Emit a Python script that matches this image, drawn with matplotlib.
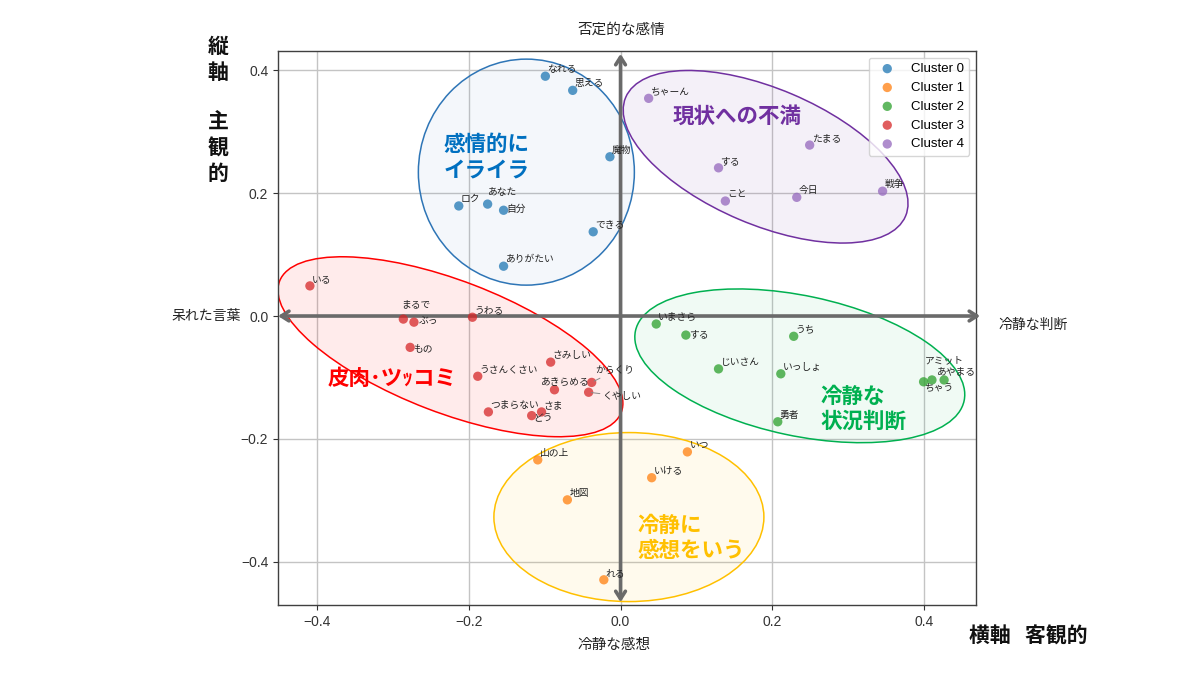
import matplotlib
matplotlib.use("Agg")
import matplotlib.pyplot as plt
from matplotlib.patches import Ellipse
from matplotlib.transforms import Affine2D

plt.rcParams['font.family'] = ['Noto Sans CJK JP', 'DejaVu Sans']

# ---------------- data ----------------
cluster_names = ["Cluster 0", "Cluster 1", "Cluster 2", "Cluster 3", "Cluster 4"]
cluster_colors = ["#1f77b4", "#ff7f0e", "#2ca02c", "#d62728", "#9467bd"]

c0_words = ["なれる", "思える", "魔物", "ロク", "あなた", "自分", "できる", "ありがたい"]
c0_x = [-0.099, -0.063, -0.014, -0.213, -0.175, -0.154, -0.036, -0.154]
c0_y = [0.390, 0.367, 0.259, 0.179, 0.182, 0.172, 0.137, 0.081]

c1_words = ["山の上", "いつ", "いける", "地図", "れる"]
c1_x = [-0.109, 0.088, 0.041, -0.070, -0.022]
c1_y = [-0.234, -0.221, -0.263, -0.299, -0.429]

c2_words = ["いまさら", "する", "うち", "じいさん", "いっしょ", "ちゃう", "アミット", "あやまる", "勇者"]
c2_x = [0.047, 0.086, 0.228, 0.129, 0.211, 0.399, 0.410, 0.426, 0.207]
c2_y = [-0.013, -0.031, -0.033, -0.086, -0.094, -0.107, -0.104, -0.104, -0.172]

c3_words = ["いる", "まるで", "ぶっ", "うわる", "もの", "さみしい", "うさんくさい", "からくり",
            "あきらめる", "くやしい", "つまらない", "さま", "どう"]
c3_x = [-0.409, -0.286, -0.272, -0.195, -0.277, -0.092, -0.188, -0.038,
        -0.087, -0.042, -0.174, -0.104, -0.117]
c3_y = [0.049, -0.005, -0.010, -0.002, -0.051, -0.075, -0.098, -0.108,
        -0.120, -0.124, -0.156, -0.156, -0.162]

c4_words = ["ちゃーん", "たまる", "する", "こと", "今日", "戦争"]
c4_x = [0.037, 0.249, 0.129, 0.138, 0.232, 0.345]
c4_y = [0.354, 0.278, 0.241, 0.187, 0.193, 0.203]

cluster_words = [c0_words, c1_words, c2_words, c3_words, c4_words]
cluster_x = [c0_x, c1_x, c2_x, c3_x, c4_x]
cluster_y = [c0_y, c1_y, c2_y, c3_y, c4_y]

group_labels = ["感情的に\nイライラ", "冷静に\n感想をいう", "冷静な\n状況判断", "皮肉･ツｯコミ", "現状への不満"]
group_colors = ["#0070c0", "#ffc000", "#00b050", "#ff0000", "#7030a0"]

# ---------------- layout / style ----------------
XLIM = (-0.451, 0.468)
YLIM = (-0.470, 0.431)

# label offsets in pixels (dx, dy up) for text bottom-left corner
default_off = (2, 2)
label_off = {
    (0, "あなた"): (0, 7),
    (0, "自分"): (3, -4),
    (3, "ぶっ"): (5, -4),
    (3, "もの"): (3, -6),
    (2, "する"): (3, -4),
    (3, "まるで"): (-2, 10),
    (3, "あきらめる"): (-13, 3),
    (3, "どう"): (2, -7),
    (3, "からくり"): (4, 7),
    (3, "くやしい"): (14, -9),
    (2, "アミット"): (-7, 15),
    (2, "ちゃう"): (1, -10),
    (2, "あやまる"): (-7, 4),
}
connectors = {(3, "からくり"), (3, "くやしい")}

# ellipses: center in data, width/height in pixels, angle in degrees
ellipses = [
    ((-0.124, 0.234), 216, 226, 0, "#2e75b6"),
    ((0.011, -0.327), 270, 169, 0, "#ffc000"),
    ((0.236, -0.081), 336, 140, -12, "#00b050"),
    ((-0.224, -0.050), 366, 132, -21, "#ff0000"),
    ((0.191, 0.259), 304, 136, -23, "#7030a0"),
]
ellipse_fill_alpha = [0.05, 0.07, 0.06, 0.08, 0.07]
group_pos = [(-0.233, 0.258), (0.022, -0.361), (0.263, -0.151), (-0.386, -0.102), (0.068, 0.325)]

fig = plt.figure(figsize=(12, 6.75), dpi=100)
ax = fig.add_axes([278 / 1200, 1 - 605 / 675, (976 - 278) / 1200, (605 - 51) / 675])
ax.set_xlim(*XLIM)
ax.set_ylim(*YLIM)

# pixel scale
px_x = (976 - 278) / (XLIM[1] - XLIM[0])
px_y = (605 - 51) / (YLIM[1] - YLIM[0])

ax.grid(True, color="#c4c4c4", lw=1.0, zorder=0)
ax.set_axisbelow(True)
for s in ax.spines.values():
    s.set_color("#404040")
    s.set_linewidth(1.0)
ax.tick_params(labelsize=10, colors="#333333")
ax.set_xticks([-0.4, -0.2, 0.0, 0.2, 0.4])
ax.set_yticks([-0.4, -0.2, 0.0, 0.2, 0.4])
for lbl in ax.get_xticklabels() + ax.get_yticklabels():
    lbl.set_fontfamily(['Liberation Sans', 'DejaVu Sans'])

# ellipses
for (c, w, h, ang, col), fa in zip(ellipses, ellipse_fill_alpha):
    tr = Affine2D().scale(1 / px_x, 1 / px_y).translate(c[0], c[1]) + ax.transData
    ax.add_patch(Ellipse((0, 0), w, h, angle=ang, transform=tr, facecolor=col,
                         alpha=fa, edgecolor="none", zorder=1))
    ax.add_patch(Ellipse((0, 0), w, h, angle=ang, transform=tr, facecolor="none",
                         edgecolor=col, lw=1.1, zorder=2))

# axis arrows
arrow_kw = dict(arrowstyle="<->,head_length=0.55,head_width=0.35", color="#6a6a6a", lw=2.6)
ax.annotate("", xy=(1.01, 0), xytext=(-0.004, 0), xycoords=("axes fraction", "data"),
            textcoords=("axes fraction", "data"), arrowprops=arrow_kw, annotation_clip=False, zorder=3)
ax.annotate("", xy=(0, 1.0), xytext=(0, 0.0), xycoords=("data", "axes fraction"),
            textcoords=("data", "axes fraction"), arrowprops=arrow_kw, annotation_clip=False, zorder=3)

# scatter
for i in range(5):
    ax.scatter(cluster_x[i], cluster_y[i], s=45, color=cluster_colors[i], alpha=0.75,
               edgecolors="none", label=cluster_names[i], zorder=4)
    for wd, x, y in zip(cluster_words[i], cluster_x[i], cluster_y[i]):
        dx, dy = label_off.get((i, wd), default_off)
        ap = dict(arrowstyle="-", color="#888888", lw=0.7, shrinkA=0, shrinkB=2) if (i, wd) in connectors else None
        ax.annotate(wd, xy=(x, y), xytext=(dx, dy), textcoords="offset pixels",
                    fontsize=7, color="#222222", ha="left", va="bottom", zorder=5,
                    arrowprops=ap)

# group labels
for lab, col, pos in zip(group_labels, group_colors, group_pos):
    ax.text(pos[0], pos[1], lab, color=col, fontsize=15.5, fontweight="bold",
            ha="left", va="center", linespacing=1.25, zorder=6)

leg = ax.legend(loc="upper right", frameon=True, framealpha=0.8,
                prop={'family': ['Liberation Sans', 'DejaVu Sans'], 'size': 9.5})

# direction labels
fig.text(621 / 1200, 1 - 30 / 675, "否定的な感情", fontsize=10.5, ha="center", va="center", color="#222222")
fig.text(614 / 1200, 1 - 645 / 675, "冷静な感想", fontsize=10.5, ha="center", va="center", color="#222222")
fig.text(206 / 1200, 1 - 316 / 675, "呆れた言葉", fontsize=10, ha="center", va="center", color="#222222")
fig.text(1033 / 1200, 1 - 325 / 675, "冷静な判断", fontsize=10, ha="center", va="center", color="#222222")
fig.text(1028 / 1200, 1 - 636 / 675, "横軸   客観的", fontsize=15, fontweight="bold", ha="center", va="center", color="#111111")
fig.text(218 / 1200, 1 - 110 / 675, "縦\n軸\n\n主\n観\n的", fontsize=15, fontweight="bold", ha="center", va="center",
         linespacing=1.25, color="#111111")

fig.savefig("out.png", dpi=100)
